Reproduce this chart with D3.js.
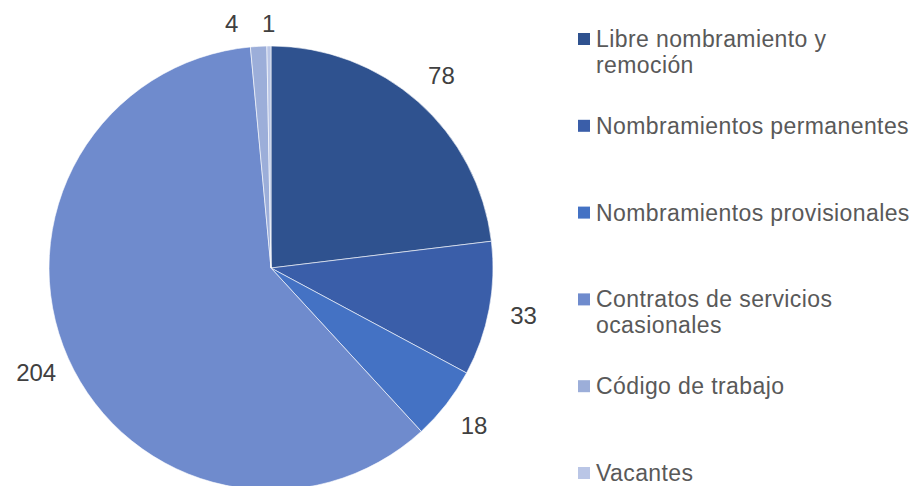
<!DOCTYPE html>
<html>
<head>
<meta charset="utf-8">
<script src="https://cdn.jsdelivr.net/npm/d3@7"></script>
<style>
  html, body { margin: 0; padding: 0; background: #fff; }
  svg { display: block; font-family: "Liberation Sans", Arial, sans-serif; }
</style>
</head>
<body>
<div id="chart-container"></div>
<script>
(function() {
  'use strict';

const categories = [
  'Libre nombramiento y remoción',
  'Nombramientos permanentes',
  'Nombramientos provisionales',
  'Contratos de servicios ocasionales',
  'Código de trabajo',
  'Vacantes'
];
const values = [78, 33, 18, 204, 4, 1];
const colors = ['#2f528f', '#3a5ea9', '#4472c4', '#6f8bcd', '#9caed9', '#bac6e6'];

const chart = '#chart-container';

const W = 914;
const H = 486;
const CX = 271;
const CY = 268;
const R = 222;
const LABEL_R = 257;

const svg = d3.select(chart)
  .append('svg')
    .attr('width', W)
    .attr('height', H);

const data = categories.map((c, i) => ({ name: c, value: values[i], color: colors[i] }));

const pie = d3.pie()
  .sort(null)
  .value(d => d.value);

const arcs = pie(data);

const arc = d3.arc()
  .innerRadius(0)
  .outerRadius(R);

const labelArc = d3.arc()
  .innerRadius(LABEL_R)
  .outerRadius(LABEL_R);

const g = svg.append('g')
  .attr('transform', `translate(${CX}, ${CY})`);

g.selectAll('path')
  .data(arcs)
  .enter()
  .append('path')
    .attr('d', arc)
    .attr('fill', d => d.data.color)
    .attr('stroke', '#ffffff')
    .attr('stroke-width', 0.6);

// label positions: keep inside the plot top, then push apart ones that collide
const labelPos = arcs.map(d => {
  const p = labelArc.centroid(d);
  return [p[0], Math.max(p[1], 23.5 - CY)];
});
for (let i = labelPos.length - 2; i >= 0; i--) {
  const a = labelPos[i], b = labelPos[i + 1];
  if (Math.abs(a[1] - b[1]) < 20 && b[0] - a[0] < 37) {
    a[0] = b[0] - 37;
  }
}

g.selectAll('text.label')
  .data(arcs)
  .enter()
  .append('text')
    .attr('class', 'label')
    .attr('x', (d, i) => labelPos[i][0])
    .attr('y', (d, i) => labelPos[i][1])
    .attr('dy', '0.36em')
    .attr('text-anchor', 'middle')
    .attr('font-size', 24)
    .attr('fill', '#404040')
    .text(d => d.data.value);

// legend
const legendX = 578;
const textX = 596;
const maxTextW = W - textX;
const legendY = d3.scalePoint()
  .domain(categories)
  .range([39, 473]);

const legend = svg.append('g').attr('class', 'legend');

const items = legend.selectAll('g')
  .data(data)
  .enter()
  .append('g')
    .attr('transform', d => `translate(0, ${legendY(d.name)})`);

items.append('rect')
  .attr('x', legendX)
  .attr('y', -6)
  .attr('width', 12)
  .attr('height', 12)
  .attr('fill', d => d.color);

items.append('text')
  .attr('x', textX)
  .attr('font-size', 23)
  .attr('letter-spacing', 0.4)
  .attr('fill', '#595959')
  .each(function(d) {
    const t = d3.select(this);
    const words = d.name.split(' ');
    let line = [];
    let n = 0;
    let tspan = t.append('tspan').attr('x', textX).attr('y', 8);
    words.forEach(w => {
      line.push(w);
      tspan.text(line.join(' '));
      if (tspan.node().getComputedTextLength() > maxTextW && line.length > 1) {
        line.pop();
        tspan.text(line.join(' '));
        line = [w];
        n++;
        tspan = t.append('tspan').attr('x', textX).attr('y', 8 + n * 26).text(w);
      }
    });
  });

})();
</script>
</body>
</html>
